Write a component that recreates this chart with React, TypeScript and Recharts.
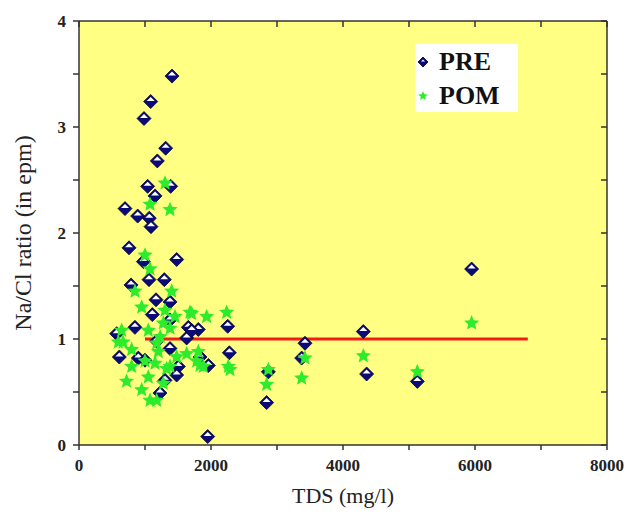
import React from 'react'
import {
  ScatterChart, Scatter, XAxis, YAxis, ZAxis, ReferenceLine,
} from 'recharts'

// PRE monsoon samples
const preTds = [1409, 1086, 985, 1313, 1187, 1040, 1389, 1152, 697, 889, 1065, 1091, 758, 1480, 975, 1061, 1293, 788, 1167, 1379, 1111, 1379, 848, 1657, 1808, 571, 1631, 1177, 1379, 611, 899, 1000, 1833, 1505, 1480, 1303, 1227, 1950, 1707, 2253, 1960, 2278, 2869, 2843, 3424, 3374, 4308, 4358, 5949, 5126]
const preRatio = [3.48, 3.24, 3.08, 2.80, 2.68, 2.44, 2.44, 2.35, 2.23, 2.16, 2.14, 2.06, 1.86, 1.75, 1.73, 1.56, 1.56, 1.51, 1.37, 1.35, 1.23, 1.18, 1.11, 1.11, 1.09, 1.05, 1.01, 0.98, 0.91, 0.83, 0.82, 0.80, 0.83, 0.74, 0.66, 0.61, 0.49, 0.08, 1.08, 1.12, 0.75, 0.87, 0.69, 0.40, 0.96, 0.82, 1.07, 0.67, 1.66, 0.60]

// POM (post monsoon) samples
const pomTds = [1303, 1076, 1379, 1000, 1076, 848, 1404, 950, 1303, 1455, 1682, 1934, 646, 1050, 1278, 596, 667, 1177, 798, 1202, 1631, 1000, 1480, 1379, 798, 1152, 1328, 1833, 1050, 720, 1278, 950, 1076, 1177, 1783, 1884, 1707, 2237, 1808, 2263, 2288, 2869, 2843, 3424, 3374, 4308, 5949, 5126, 1379, 1230]
const pomRatio = [2.47, 2.27, 2.22, 1.79, 1.66, 1.45, 1.45, 1.30, 1.27, 1.21, 1.25, 1.21, 1.08, 1.08, 1.15, 0.97, 0.97, 0.96, 0.90, 0.88, 0.86, 0.79, 0.83, 0.74, 0.74, 0.77, 0.72, 0.75, 0.64, 0.60, 0.58, 0.52, 0.42, 0.42, 0.79, 0.74, 1.24, 1.25, 0.88, 0.74, 0.71, 0.71, 0.57, 0.82, 0.63, 0.84, 1.15, 0.69, 1.10, 1.02]

// Na/Cl = 1 reference line
const refLineX = [1000, 6800]
const refLineY = 1

const xTicks = [0, 1000, 2000, 3000, 4000, 5000, 6000, 7000, 8000]
const yTicks = [0, 0.5, 1, 1.5, 2, 2.5, 3, 3.5, 4]

const preData = preTds.map((x, i) => ({ x, y: preRatio[i] }))
const pomData = pomTds.map((x, i) => ({ x, y: pomRatio[i] }))

const serif = '"Liberation Serif", "Times New Roman", serif'

function Diamond({ cx, cy, r = 7 }: any) {
  if (cx == null || cy == null) return null
  return (
    <g>
      <path d={`M${cx},${cy - r} L${cx + r},${cy} L${cx},${cy + r} L${cx - r},${cy} Z`} fill="#0a0a78" stroke="#000030" strokeWidth={0.8} />
      <path d={`M${cx},${cy - r + 2.5} L${cx + r - 3},${cy - 0.5} L${cx - r + 3},${cy - 0.5} Z`} fill="#ffffff" />
    </g>
  )
}

function Star({ cx, cy, r = 8 }: any) {
  if (cx == null || cy == null) return null
  const pts: string[] = []
  for (let i = 0; i < 10; i++) {
    const rr = i % 2 === 0 ? r : r * 0.45
    const a = -Math.PI / 2 + (i * Math.PI) / 5
    pts.push(`${cx + rr * Math.cos(a)},${cy + rr * Math.sin(a)}`)
  }
  return <polygon points={pts.join(' ')} fill="#2cec2c" />
}

// inward tick marks on the top and right frame
function TopTick({ x, y }: any) {
  return <line x1={x} x2={x} y1={y} y2={y + 6} stroke="#333" strokeWidth={1.5} />
}
function RightTick({ x, y }: any) {
  return <line x1={x - 6} x2={x} y1={y} y2={y} stroke="#333" strokeWidth={1.5} />
}

function LegendBox() {
  return (
    <div style={{ position: 'absolute', left: 415, top: 44, background: '#fff', width: 103, height: 68, fontFamily: serif, fontWeight: 'bold', fontSize: 26, color: '#111', lineHeight: 1 }}>
      <div style={{ display: 'flex', alignItems: 'center', height: 36 }}>
        <svg width={24} height={20}><Diamond cx={8} cy={10} r={5} /></svg>
        <span>PRE</span>
      </div>
      <div style={{ display: 'flex', alignItems: 'center', height: 32 }}>
        <svg width={24} height={20}><Star cx={8} cy={10} r={5} /></svg>
        <span>POM</span>
      </div>
    </div>
  )
}

export default function App() {
  return (
    <div style={{ position: 'absolute', left: 0, top: 0, width: 630, height: 515, background: '#fff' }}>
      {/* plot area background, behind the svg */}
      <div style={{ position: 'absolute', left: 79, top: 21, width: 528, height: 424, background: '#ffff84' }} />
      <div style={{ position: 'absolute', left: 0, top: 0 }}>
        <ScatterChart width={630} height={515} margin={{ top: 20, right: 22, left: 0, bottom: 0 }}>
          <XAxis
            xAxisId="b" type="number" dataKey="x" domain={[0, 8000]} ticks={xTicks} interval={0}
            tickFormatter={(v: number) => (v % 2000 === 0 ? String(v) : '')}
            height={70} tickSize={5} tickMargin={9}
            stroke="#333" strokeWidth={1.5}
            tick={{ fill: '#222', fontFamily: serif, fontWeight: 'bold', fontSize: 17 }}
            label={{ value: 'TDS (mg/l)', position: 'insideBottom', offset: 12, fill: '#222', fontFamily: serif, fontSize: 22 }}
          />
          <XAxis
            xAxisId="t" orientation="top" type="number" dataKey="x" domain={[0, 8000]} ticks={xTicks} interval={0}
            height={1} tickLine={false} tickSize={0} tickMargin={0} tick={<TopTick />} stroke="#333" strokeWidth={1.5}
          />
          <YAxis
            yAxisId="l" type="number" dataKey="y" domain={[0, 4]} ticks={yTicks} interval={0}
            tickFormatter={(v: number) => (Number.isInteger(v) ? String(v) : '')}
            width={79} tickSize={6} tickMargin={7}
            stroke="#333" strokeWidth={1.5}
            tick={{ fill: '#222', fontFamily: serif, fontWeight: 'bold', fontSize: 17 }}
            label={{ value: 'Na/Cl ratio (in epm)', angle: -90, position: 'insideLeft', offset: 22, style: { textAnchor: 'middle' }, fill: '#222', fontFamily: serif, fontSize: 24 }}
          />
          <YAxis
            yAxisId="r" orientation="right" type="number" dataKey="y" domain={[0, 4]} ticks={yTicks} interval={0}
            width={1} tickLine={false} tickSize={0} tickMargin={0} tick={<RightTick />} stroke="#333" strokeWidth={1.5}
          />
          <ZAxis zAxisId={0} range={[60, 60]} />
          <Scatter name="PRE" data={preData} xAxisId="b" yAxisId="l" shape={(p: any) => <Diamond cx={p.cx} cy={p.cy} />} isAnimationActive={false} />
          {/* POM is tied to the top/right axes (same domains) so those axes get a scale and draw their ticks */}
          <Scatter name="POM" data={pomData} xAxisId="t" yAxisId="r" shape={(p: any) => <Star cx={p.cx} cy={p.cy} />} isAnimationActive={false} />
          <ReferenceLine
            xAxisId="b" yAxisId="l"
            segment={[{ x: refLineX[0], y: refLineY }, { x: refLineX[1], y: refLineY }]}
            stroke="#f01e14" strokeWidth={3}
          />
        </ScatterChart>
      </div>
      <LegendBox />
    </div>
  )
}
